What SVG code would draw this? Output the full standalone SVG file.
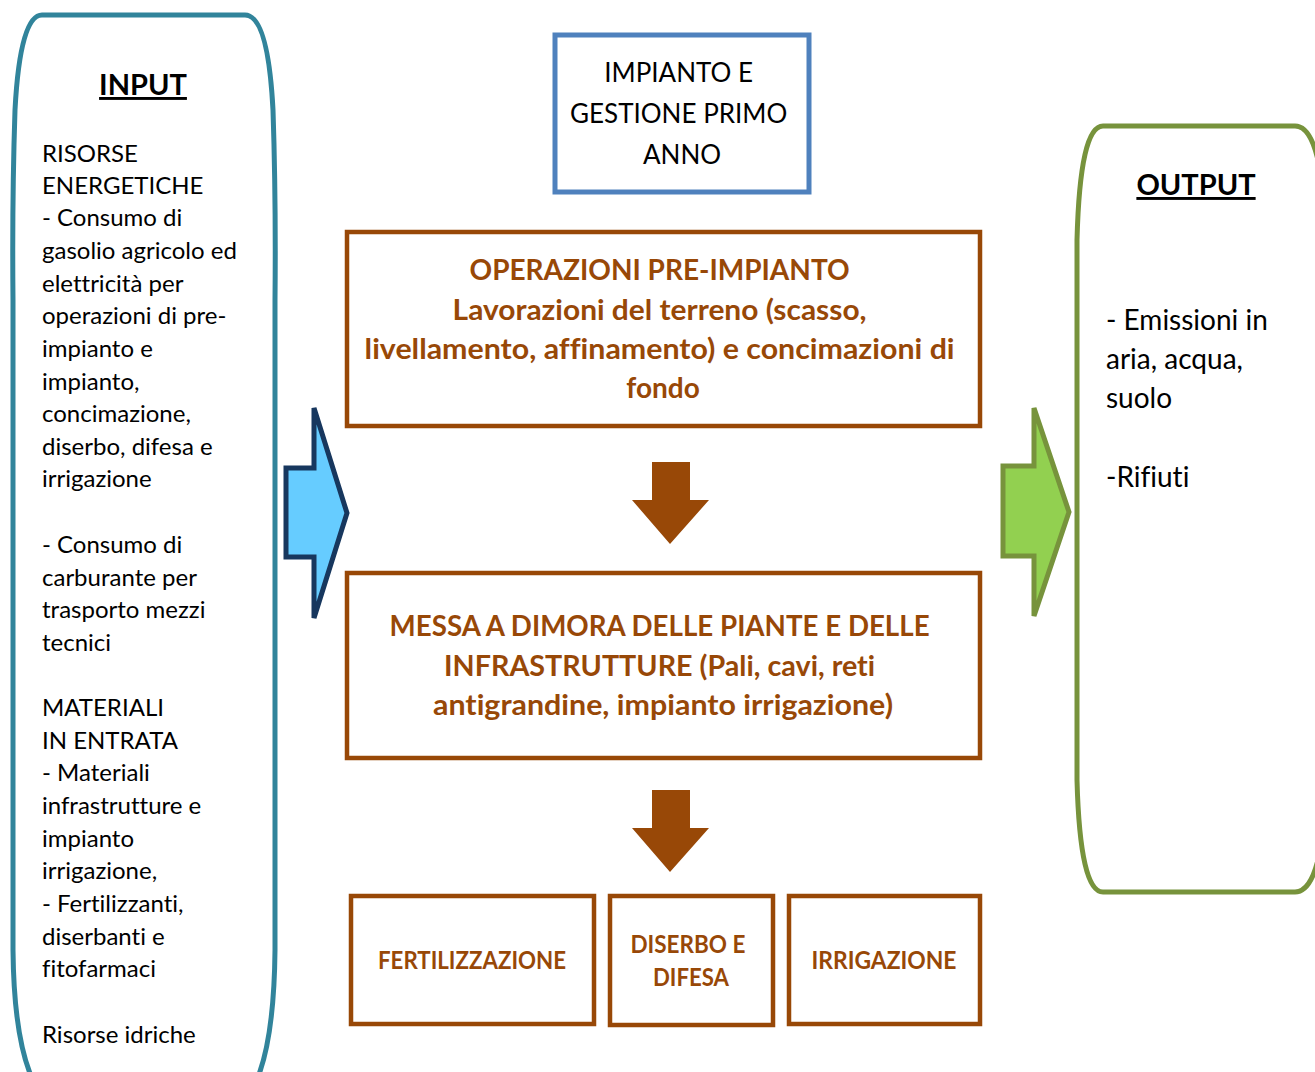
<svg xmlns="http://www.w3.org/2000/svg" width="1315" height="1072" viewBox="0 0 1315 1072">
  <style>
    .txt { font-family: Lato, "Open Sans", "Liberation Sans", sans-serif; font-variant-ligatures: none; }
    .side { font-size: 24px; fill: #000; }
    .head { font-size: 29px; font-weight: bold; fill: #000; text-decoration: underline; }
    .out { font-size: 28px; fill: #000; }
    .top { font-size: 26px; fill: #000; text-anchor: middle; }
    .brown { fill: #984807; text-anchor: middle; font-weight: bold; }
    .big { font-size: 28px; }
    .small { font-size: 25px; }
    .box { fill: #fff; stroke: #984807; stroke-width: 4.5; }
    .down { fill: #984807; }
  </style>

  <rect width="1315" height="1072" fill="#fff"/>

  <!-- input panel -->
  <g id="input">
    <path d="M 42,15 H 245 Q 268,15 273,110 Q 276,200 275,300 V 950 Q 274,1050 252,1090 H 38 Q 14,1050 13,950 V 300 Q 12,200 15,110 Q 20,15 42,15 Z" fill="#fff" stroke="#31849B" stroke-width="5"/>
    <text class="txt head" x="143" y="95" text-anchor="middle">INPUT </text>
    <text class="txt side" x="42">
      <tspan x="42" y="162">RISORSE</tspan>
      <tspan x="42" y="194">ENERGETICHE</tspan>
      <tspan x="42" y="226">- Consumo di</tspan>
      <tspan x="42" y="259">gasolio agricolo ed</tspan>
      <tspan x="42" y="292">elettricità per</tspan>
      <tspan x="42" y="324">operazioni di pre-</tspan>
      <tspan x="42" y="357">impianto e</tspan>
      <tspan x="42" y="390">impianto,</tspan>
      <tspan x="42" y="422">concimazione,</tspan>
      <tspan x="42" y="455">diserbo, difesa e</tspan>
      <tspan x="42" y="487">irrigazione</tspan>
      <tspan x="42" y="553">- Consumo di</tspan>
      <tspan x="42" y="586">carburante per</tspan>
      <tspan x="42" y="618">trasporto mezzi</tspan>
      <tspan x="42" y="651">tecnici</tspan>
      <tspan x="42" y="716">MATERIALI</tspan>
      <tspan x="42" y="749">IN ENTRATA</tspan>
      <tspan x="42" y="781">- Materiali</tspan>
      <tspan x="42" y="814">infrastrutture e</tspan>
      <tspan x="42" y="847">impianto</tspan>
      <tspan x="42" y="879">irrigazione,</tspan>
      <tspan x="42" y="912">- Fertilizzanti,</tspan>
      <tspan x="42" y="945">diserbanti e</tspan>
      <tspan x="42" y="977">fitofarmaci</tspan>
      <tspan x="42" y="1043">Risorse idriche</tspan>
    </text>
  </g>

  <!-- output panel -->
  <g id="output">
    <path d="M 1103,126 H 1295 Q 1310,126 1318,160 V 860 Q 1310,892 1295,892 H 1103 Q 1080,892 1077,780 V 240 Q 1080,126 1103,126 Z" fill="#fff" stroke="#77933C" stroke-width="5"/>
    <text class="txt head" x="1196" y="195" text-anchor="middle">OUTPUT</text>
    <text class="txt out">
      <tspan x="1106" y="330">- Emissioni in</tspan>
      <tspan x="1106" y="369">aria, acqua,</tspan>
      <tspan x="1106" y="408">suolo</tspan>
      <tspan x="1106" y="487">-Rifiuti</tspan>
    </text>
  </g>

  <!-- title box -->
  <g id="title">
    <rect x="555" y="35" width="254" height="157" fill="#fff" stroke="#4F81BD" stroke-width="5"/>
    <text class="txt top">
      <tspan x="682" y="82">IMPIANTO E</tspan>
      <tspan x="682" y="123">GESTIONE PRIMO</tspan>
      <tspan x="682" y="164">ANNO</tspan>
    </text>
  </g>

  <!-- pre-planting operations -->
  <g id="pre-impianto">
    <rect class="box" x="347" y="232" width="633" height="194"/>
    <text class="txt brown big">
      <tspan x="663" y="280">OPERAZIONI PRE-IMPIANTO</tspan>
      <tspan x="663" y="320" textLength="414" lengthAdjust="spacingAndGlyphs">Lavorazioni del terreno (scasso,</tspan>
      <tspan x="663" y="359" textLength="590" lengthAdjust="spacingAndGlyphs">livellamento, affinamento) e concimazioni di</tspan>
      <tspan x="663" y="398">fondo</tspan>
    </text>
  </g>

  <!-- planting and infrastructure -->
  <g id="messa-a-dimora">
    <rect class="box" x="347" y="573" width="633" height="185"/>
    <text class="txt brown big">
      <tspan x="663" y="636" textLength="540" lengthAdjust="spacingAndGlyphs">MESSA A DIMORA DELLE PIANTE E DELLE</tspan>
      <tspan x="663" y="676" textLength="431" lengthAdjust="spacingAndGlyphs">INFRASTRUTTURE (Pali, cavi, reti</tspan>
      <tspan x="663" y="715" textLength="460" lengthAdjust="spacingAndGlyphs">antigrandine, impianto irrigazione)</tspan>
    </text>
  </g>

  <!-- management tasks -->
  <g id="fertilizzazione">
    <rect class="box" x="351" y="896" width="243" height="128"/>
    <text class="txt brown small" x="472" y="969" textLength="188" lengthAdjust="spacingAndGlyphs">FERTILIZZAZIONE</text>
  </g>
  <g id="diserbo">
    <rect class="box" x="610" y="896" width="163" height="129"/>
    <text class="txt brown small">
      <tspan x="691" y="953" textLength="115" lengthAdjust="spacingAndGlyphs">DISERBO E</tspan>
      <tspan x="691" y="986" textLength="76" lengthAdjust="spacingAndGlyphs">DIFESA</tspan>
    </text>
  </g>
  <g id="irrigazione">
    <rect class="box" x="789" y="896" width="191" height="128"/>
    <text class="txt brown small" x="884" y="969" textLength="145" lengthAdjust="spacingAndGlyphs">IRRIGAZIONE</text>
  </g>

  <!-- connectors -->
  <g id="connectors">
    <path class="down" d="M 652,462 H 690 V 500 H 709 L 670,544 L 632,500 H 652 Z"/>
    <path class="down" d="M 652,790 H 690 V 828 H 709 L 670,872 L 632,828 H 652 Z"/>
    <path d="M 314,408 L 347,513 L 314,618 V 557 H 286 V 468 H 314 Z" fill="#66CCFF" stroke="#17375E" stroke-width="5" stroke-linejoin="miter"/>
    <path d="M 1034,408 L 1069,512 L 1034,616 V 556 H 1003 V 466 H 1034 Z" fill="#92D050" stroke="#77933C" stroke-width="5" stroke-linejoin="miter"/>
  </g>
</svg>
